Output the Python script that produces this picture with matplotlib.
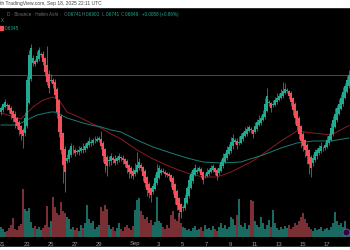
import matplotlib
matplotlib.use("Agg")
import matplotlib.pyplot as plt
from matplotlib.patches import Rectangle
from matplotlib.lines import Line2D
from matplotlib.transforms import blended_transform_factory
import numpy as np
import pandas as pd

# Heikin Ashi closes, 4h candles starting 2025-08-20 16:00 UTC
ha_close = [
    0.652, 0.656, 0.658, 0.654, 0.650, 0.646, 0.642, 0.638, 0.634, 0.630,
    0.626, 0.624, 0.642, 0.680, 0.705, 0.712, 0.702, 0.696, 0.704, 0.710,
    0.706, 0.698, 0.688, 0.678, 0.672, 0.680, 0.676, 0.665, 0.648, 0.628,
    0.610, 0.595, 0.588, 0.602, 0.610, 0.614, 0.610, 0.607, 0.608, 0.610,
    0.612, 0.610, 0.614, 0.617, 0.619, 0.618, 0.620, 0.619, 0.621, 0.622,
    0.614, 0.604, 0.596, 0.594, 0.600, 0.604, 0.600, 0.597, 0.602, 0.604,
    0.602, 0.600, 0.596, 0.592, 0.588, 0.586, 0.584, 0.590, 0.595, 0.598,
    0.592, 0.584, 0.577, 0.570, 0.567, 0.565, 0.574, 0.582, 0.588, 0.592,
    0.590, 0.588, 0.586, 0.585, 0.584, 0.578, 0.570, 0.562, 0.555, 0.550,
    0.548, 0.552, 0.562, 0.572, 0.580, 0.586, 0.590, 0.592, 0.590, 0.592,
    0.585, 0.580, 0.584, 0.588, 0.590, 0.592, 0.594, 0.588, 0.584, 0.592,
    0.598, 0.602, 0.606, 0.610, 0.613, 0.618, 0.622, 0.620, 0.615, 0.618,
    0.624, 0.627, 0.629, 0.631, 0.633, 0.630, 0.626, 0.634, 0.638, 0.640,
    0.642, 0.646, 0.656, 0.664, 0.658, 0.652, 0.656, 0.660, 0.662, 0.664,
    0.667, 0.669, 0.671, 0.670, 0.664, 0.658, 0.650, 0.642, 0.634, 0.626,
    0.619, 0.614, 0.610, 0.604, 0.596, 0.592, 0.602, 0.608, 0.610, 0.612,
    0.614, 0.612, 0.615, 0.620, 0.624, 0.632, 0.640, 0.646, 0.652, 0.656,
    0.662, 0.668, 0.674, 0.680, 0.6849,
]
ha_open_first = 0.648

# wick lengths above / below the body, in thousandths
wick_hi = [
    2, 1, 3, 2, 1, 2, 1, 3, 1, 2, 1, 2, 6, 4, 5, 4, 3, 2, 5, 3,
    2, 3, 1, 19, 4, 6, 2, 3, 2, 1, 2, 1, 3, 4, 2, 3, 5, 2, 3, 4,
    2, 6, 3, 2, 4, 3, 2, 5, 3, 2, 8, 2, 1, 2, 4, 3, 2, 4, 2, 3,
    2, 3, 1, 2, 1, 2, 3, 7, 13, 4, 2, 1, 2, 1, 2, 1, 3, 4, 8, 3,
    2, 3, 2, 1, 2, 1, 2, 1, 2, 1, 1, 3, 4, 2, 5, 3, 2, 4, 3, 2,
    2, 1, 3, 4, 2, 3, 2, 1, 2, 4, 3, 5, 2, 4, 3, 5, 4, 2, 3, 6,
    3, 2, 4, 3, 2, 2, 1, 4, 3, 5, 3, 4, 6, 8, 2, 1, 4, 3, 5, 3,
    4, 9, 6, 2, 1, 2, 1, 2, 1, 2, 1, 2, 1, 2, 1, 2, 4, 3, 2, 3,
    4, 2, 3, 4, 3, 5, 4, 6, 3, 5, 4, 5, 3, 4, 5,
]
wick_lo = [
    3, 2, 1, 4, 3, 5, 4, 6, 3, 5, 6, 12, 3, 2, 1, 2, 3, 2, 1, 2,
    2, 3, 4, 3, 5, 2, 4, 3, 6, 5, 4, 18, 20, 2, 3, 2, 4, 3, 2, 3,
    2, 3, 2, 1, 2, 3, 2, 2, 1, 2, 3, 6, 8, 10, 5, 4, 3, 2, 3, 2,
    3, 4, 3, 5, 6, 4, 3, 2, 1, 2, 3, 5, 4, 6, 5, 7, 2, 1, 2, 1,
    2, 1, 3, 2, 4, 5, 4, 6, 5, 7, 6, 3, 2, 1, 2, 1, 2, 1, 2, 1,
    3, 4, 2, 1, 2, 1, 2, 3, 4, 2, 1, 2, 1, 2, 1, 2, 3, 2, 4, 2,
    1, 2, 1, 2, 1, 3, 4, 1, 2, 1, 2, 1, 2, 1, 3, 4, 2, 1, 2, 1,
    1, 2, 1, 2, 3, 4, 5, 6, 4, 5, 6, 5, 7, 8, 10, 9, 3, 2, 3, 2,
    2, 3, 2, 1, 2, 1, 2, 1, 2, 1, 1, 2, 1, 1, 2,
]

# volume, millions
volume = [
    1.0, 0.8, 0.5, 0.6, 0.9, 1.2, 1.9, 0.8, 0.7, 1.1, 1.3, 4.8, 2.8, 2.6, 2.9, 1.5, 0.9, 1.1, 0.8, 1.0,
    0.7, 0.9, 1.2, 3.1, 1.0, 1.6, 4.0, 3.0, 2.4, 2.2, 3.5, 2.6, 2.4, 2.0, 1.8, 0.8, 1.0, 0.7, 0.9, 0.6,
    1.2, 0.9, 1.4, 3.2, 1.8, 1.4, 1.6, 0.8, 1.0, 1.2, 3.0, 2.6, 3.2, 2.8, 1.2, 0.8, 1.0, 0.6, 0.9, 1.4,
    0.8, 0.6, 1.0, 1.2, 0.9, 0.7, 1.1, 2.7, 3.7, 3.9, 2.6, 2.2, 1.8, 2.0, 1.4, 1.7, 1.2, 1.5, 4.0, 1.6,
    1.4, 1.0, 0.8, 1.2, 0.9, 2.2, 2.6, 1.8, 1.6, 2.4, 1.4, 1.0, 0.9, 0.7, 0.8, 0.6, 0.9, 1.1, 0.7, 0.8,
    1.0, 0.6, 1.2, 0.8, 0.9, 0.7, 1.1, 0.8, 0.6, 1.0, 1.4, 0.9, 1.2, 0.8, 1.0, 2.0, 1.8, 1.2, 2.2, 3.8,
    1.2, 1.0, 1.4, 0.8, 1.2, 3.7, 3.6, 1.6, 1.2, 1.0, 2.0, 1.4, 0.8, 1.2, 1.7, 1.0, 2.7, 1.4, 0.9, 0.7,
    1.0, 0.8, 1.1, 0.9, 1.2, 0.8, 1.0, 1.4, 1.2, 1.6, 2.0, 2.4, 1.8, 1.4, 1.0, 0.8, 0.6, 0.9, 0.7, 0.8,
    1.0, 0.6, 0.8, 0.9, 0.7, 1.0, 1.4, 2.5, 1.6, 1.2, 1.4, 1.0, 1.6, 0.8, 0.6,
]

# moving averages sampled at candle indices
ma_red_idx = [0, 10, 16, 21, 26, 29, 33, 40, 45, 50, 55, 60, 68, 76, 85, 93, 101, 108,
              115, 120, 125, 131, 140, 148, 156, 165, 174]
ma_red = [0.647, 0.641, 0.653, 0.660, 0.663, 0.660, 0.648, 0.642, 0.637, 0.632, 0.626,
          0.621, 0.610, 0.601, 0.593, 0.587, 0.583, 0.583, 0.588, 0.593, 0.598, 0.606,
          0.619, 0.629, 0.627, 0.625, 0.6345]
ma_teal_idx = [0, 8, 11, 18, 25, 27, 33, 41, 45, 50, 55, 60, 68, 76, 85, 93, 101, 110,
               120, 123, 131, 140, 148, 156, 165, 174]
ma_teal = [0.635, 0.635, 0.638, 0.645, 0.648, 0.648, 0.642, 0.637, 0.635, 0.633, 0.630,
           0.628, 0.620, 0.613, 0.607, 0.602, 0.598, 0.597, 0.598, 0.600, 0.605, 0.612,
           0.617, 0.619, 0.619, 0.622]

start = pd.Timestamp("2025-08-20 16:00")
tick_dates = ["2025-08-21", "2025-08-23", "2025-08-25", "2025-08-27", "2025-08-29",
              "2025-09-01", "2025-09-03", "2025-09-05", "2025-09-07", "2025-09-09",
              "2025-09-11", "2025-09-13", "2025-09-15", "2025-09-17"]
tick_labels = ["21", "23", "25", "27", "29", "Sep", "3", "5", "7", "9", "11", "13", "15", "17"]

last_price = 0.6849

UP = "#22a98f"
DOWN = "#f2505b"
VOL_UP = "#1b6a61"
VOL_DOWN = "#7a2f34"

plt.rcParams["font.family"] = ["Liberation Sans", "DejaVu Sans"]

n = len(ha_close)
x = np.arange(n)
close = np.array(ha_close)
opens = np.empty(n)
opens[0] = ha_open_first
for k in range(1, n):
    opens[k] = (opens[k - 1] + close[k - 1]) / 2
top = np.maximum(opens, close)
bot = np.minimum(opens, close)
high = top + np.array(wick_hi) / 1000
low = bot - np.array(wick_lo) / 1000
up = close >= opens
colors = np.where(up, UP, DOWN)
vcolors = np.where(up, VOL_UP, VOL_DOWN)

fig = plt.figure(figsize=(3.5, 2.5), dpi=100, facecolor="black")
axv = fig.add_axes([0, 13 / 250, 1, 60 / 250])
ax = fig.add_axes([0, 0, 1, 1])
for a in (axv, ax):
    a.set_xlim(-0.5, n - 0.5)
    a.axis("off")
axv.set_ylim(0, 6)
ax.set_ylim(0.510, 0.760)

axv.bar(x, volume, width=0.8, color=vcolors, linewidth=0)

ax.axhline(last_price, color="#1b6a63", lw=0.6, zorder=1)
ax.plot(ma_red_idx, ma_red, color="#8a1c24", lw=0.7, zorder=2)
ax.plot(ma_teal_idx, ma_teal, color="#1c7d76", lw=0.7, zorder=2)
ax.vlines(x, low, high, colors=colors, lw=0.5, zorder=3)
ax.bar(x, np.maximum(top - bot, 0.0006), bottom=bot, width=0.75, color=colors,
       linewidth=0, zorder=4)

# date axis
trans = blended_transform_factory(ax.transData, ax.transAxes)
for d, lab in zip(tick_dates, tick_labels):
    i = (pd.Timestamp(d) - start) / pd.Timedelta(hours=4)
    ax.text(i - 1.25, 6 / 250, lab, transform=trans, ha="center", va="center",
            fontsize=4.2, color="#9a9ca3")

# white strips and watermark (left part of the line is cropped in the screenshot)
fig.add_artist(Rectangle((0, 1 - 7 / 250), 1, 7 / 250, transform=fig.transFigure,
                         color="white", zorder=10))
fig.add_artist(Rectangle((0, 0), 1, 3 / 250, transform=fig.transFigure,
                         color="white", zorder=10))
fig.text(0.5 / 350, 1 - 5.5 / 250, "th TradingView.com, Sep 18, 2025 22:11 UTC",
         fontsize=3.6, color="#444444", va="baseline", zorder=11)

# legend header
GRAY = "#6b6e78"
hy = 1 - 14.5 / 250
fig.text(61 / 350, hy, "D · Binance · Heikin Ashi ·", fontsize=3.3, color=GRAY,
         ha="right", va="center")
for lx, letter, vx, val in [(64, "O", 68, "0.6741"), (82, "H", 86, "0.6900"),
                            (102, "L", 106, "0.6741"), (121, "C", 125, "0.6849")]:
    fig.text(lx / 350, hy, letter, fontsize=3.3, color=GRAY, va="center")
    fig.text(vx / 350, hy, val, fontsize=3.3, color=UP, va="center")
fig.text(142 / 350, hy, "+0.0058 (+0.86%)", fontsize=3.3, color=UP, va="center")
fig.text(0.5 / 350, 1 - 21 / 250, "X", fontsize=3.3, color=UP, va="center")
fig.add_artist(Rectangle((0, 1 - 30 / 250), 2.5 / 350, 3.5 / 250, transform=fig.transFigure,
                         color=DOWN))
fig.text(5 / 350, 1 - 28.5 / 250, "0.6345", fontsize=3.3, color=UP, va="center")

# small badge bottom right
fig.add_artist(Line2D([346 / 350], [1 - 232 / 250], marker="o", markersize=5,
                      markerfacecolor="#2a0d36", markeredgecolor="#a23ad0",
                      markeredgewidth=0.6, transform=fig.transFigure))

fig.savefig("out.png", dpi=100, facecolor="black")
